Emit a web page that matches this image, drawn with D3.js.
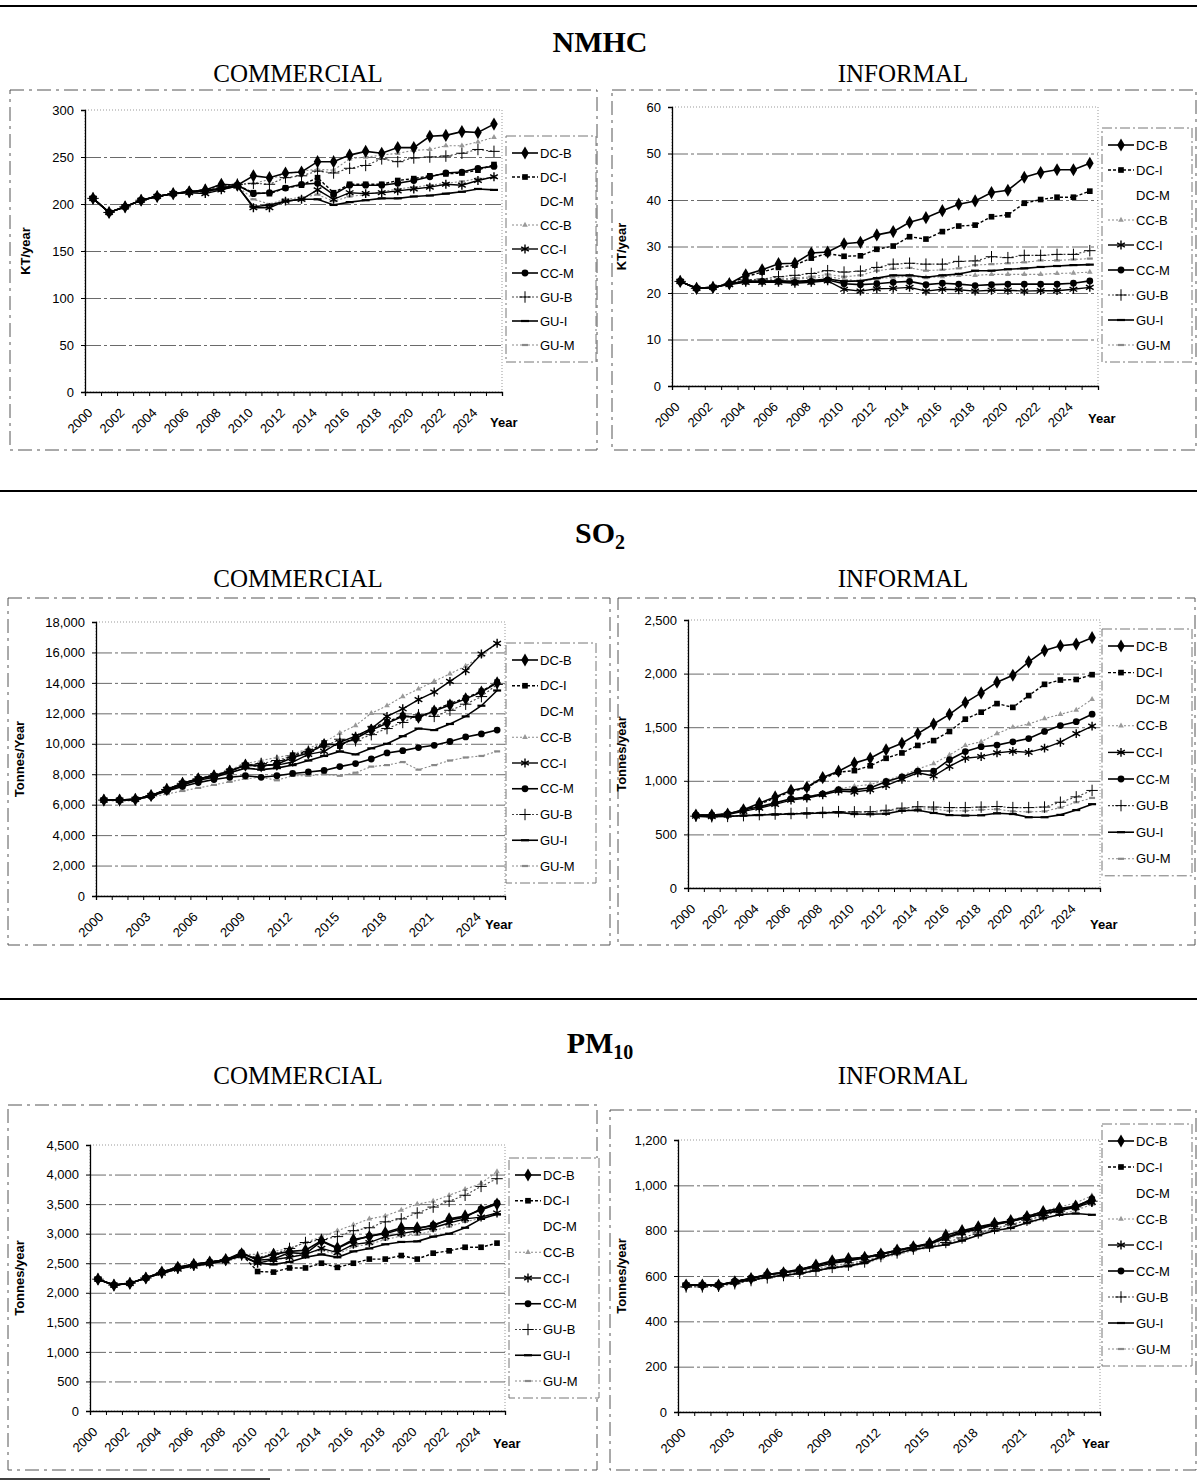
<!DOCTYPE html>
<html>
<head>
<meta charset="utf-8">
<script src="https://cdn.jsdelivr.net/npm/d3@7"></script>
<style>
  body { margin: 0; background: #fff; }
  svg { display: block; }
  text { font-family: "Liberation Sans", Arial, sans-serif; fill: #000; }
  .serif { font-family: "Liberation Serif", "Times New Roman", serif; }
</style>
</head>
<body>
<svg id="chart" width="1197" height="1484"></svg>
<script>
// Years on the category axis
const years = [2000, 2001, 2002, 2003, 2004, 2005, 2006, 2007, 2008, 2009, 2010, 2011, 2012,
  2013, 2014, 2015, 2016, 2017, 2018, 2019, 2020, 2021, 2022, 2023, 2024, 2025];

const seriesNames = ["DC-B", "DC-I", "DC-M", "CC-B", "CC-I", "CC-M", "GU-B", "GU-I", "GU-M"];

// Rows follow seriesNames; DC-M is not visible in any chart
const nmhcCommercial = [
  [206, 191, 197, 204, 208, 211, 213, 215, 221, 220, 230, 228, 233, 234, 245, 245, 252, 256, 254, 260, 260, 272, 273, 277, 276, 285],
  [206, 191, 197, 204, 208, 211, 213, 213, 216, 220, 212, 211, 217, 220, 228, 212, 221, 221, 221, 225, 227, 230, 232, 233, 236, 242],
  [],
  [206, 191, 197, 204, 208, 211, 213, 215, 218, 220, 222, 226, 232, 235, 237, 236, 248, 250, 252, 254, 257, 258, 262, 262, 266, 271],
  [206, 191, 197, 204, 208, 211, 212, 211, 215, 219, 196, 196, 203, 205, 215, 205, 212, 211, 212, 214, 216, 218, 221, 220, 225, 229],
  [206, 191, 197, 204, 208, 211, 213, 214, 217, 220, 211, 212, 217, 221, 222, 210, 220, 220, 220, 222, 225, 229, 233, 234, 238, 240],
  [206, 191, 197, 204, 208, 211, 213, 215, 219, 221, 222, 221, 228, 230, 235, 233, 238, 241, 248, 245, 249, 250, 251, 254, 258, 256],
  [206, 191, 197, 204, 208, 211, 213, 214, 216, 219, 197, 199, 203, 205, 205, 199, 202, 204, 206, 206, 208, 209, 211, 213, 216, 215],
  [206, 191, 197, 204, 208, 211, 212, 213, 216, 219, 205, 200, 205, 207, 210, 203, 208, 210, 213, 216, 218, 220, 222, 224, 227, 228]
];

const nmhcInformal = [
  [22.5, 21, 21.2, 22, 23.9, 25, 26.3, 26.4, 28.6, 28.8, 30.6, 30.9, 32.5, 33.2, 35.2, 36.2, 37.7, 39.1, 39.8, 41.6, 42.1, 44.9, 45.9, 46.5, 46.5, 47.9],
  [22.5, 21, 21.2, 22, 23.5, 24.5, 25.5, 26, 27.5, 28.5, 27.9, 28, 29.4, 30.1, 32.1, 31.6, 33.2, 34.4, 34.6, 36.4, 36.8, 39.3, 40.1, 40.6, 40.6, 41.9],
  [],
  [22.5, 21, 21.2, 22, 22.5, 22.6, 22.8, 23, 23.2, 23.5, 23, 22.5, 23, 23.4, 23.6, 23.3, 23.5, 23.8, 23.8, 24, 24, 24, 24, 24.2, 24.3, 24.5],
  [22.5, 21, 21.2, 21.8, 22.3, 22.3, 22.3, 22.1, 22.3, 22.6, 20.8, 20.4, 20.9, 21, 21.2, 20.4, 20.8, 20.7, 20.4, 20.6, 20.6, 20.4, 20.5, 20.5, 20.8, 21.2],
  [22.5, 21, 21.2, 22, 22.5, 22.5, 22.5, 22.3, 22.5, 22.8, 22, 21.8, 22, 22.3, 22.5, 21.8, 22.1, 21.9, 21.6, 21.8, 21.9, 21.9, 21.9, 21.9, 22.1, 22.6],
  [22.5, 21, 21.2, 22, 22.8, 23, 23.5, 23.8, 24.2, 24.8, 24.5, 24.7, 25.5, 26.2, 26.4, 26.2, 26.2, 26.8, 26.9, 27.8, 27.6, 28.1, 28.1, 28.3, 28.3, 29.1],
  [22.5, 21, 21.2, 22, 22.5, 22.5, 22.6, 22.5, 22.7, 23, 22.5, 22.6, 23.2, 23.8, 23.8, 23.4, 23.8, 24.1, 24.8, 24.8, 25.1, 25.3, 25.6, 25.8, 26, 26.1],
  [22.5, 21, 21.2, 22, 22.6, 22.8, 23, 23.2, 23.5, 24, 23.5, 23.8, 24.8, 25.2, 25.4, 24.8, 25, 25.3, 26, 26.2, 26.4, 26.6, 27, 27, 27.2, 27.4]
];

const so2Commercial = [
  [6300, 6300, 6350, 6600, 7000, 7400, 7700, 7900, 8200, 8600, 8550, 8650, 9100, 9400, 9950, 9950, 10350, 10900, 11350, 11800, 11750, 12150, 12550, 12950, 13400, 14000],
  [6300, 6300, 6350, 6600, 7000, 7400, 7700, 7900, 8200, 8600, 8500, 8700, 9250, 9500, 10050, 9850, 10450, 11000, 11450, 11850, 11700, 12200, 12650, 13000, 13450, 14050],
  [],
  [6300, 6300, 6350, 6600, 7000, 7400, 7700, 7950, 8300, 8700, 8900, 9100, 9300, 9700, 10100, 10700, 11200, 12000, 12500, 13100, 13600, 14100, 14600, 15100, 15800, 16600],
  [6300, 6300, 6350, 6600, 7000, 7400, 7700, 7900, 8200, 8600, 8600, 8600, 8800, 9300, 9500, 10100, 10500, 11000, 11800, 12300, 12900, 13400, 14100, 14800, 15900, 16600],
  [6300, 6300, 6350, 6550, 6900, 7200, 7450, 7650, 7800, 7900, 7800, 7900, 8050, 8150, 8250, 8500, 8700, 9000, 9400, 9550, 9750, 9900, 10150, 10450, 10650, 10900],
  [6300, 6300, 6350, 6600, 7000, 7400, 7700, 7900, 8200, 8600, 8700, 8900, 9200, 9500, 9800, 10300, 10200, 10600, 11000, 11400, 11900, 11800, 12200, 12600, 13100, 13900],
  [6300, 6300, 6350, 6600, 6950, 7300, 7600, 7800, 8100, 8400, 8300, 8400, 8600, 8900, 9200, 9500, 9300, 9700, 10000, 10500, 11000, 10900, 11300, 11800, 12500, 13500],
  [6300, 6200, 6300, 6500, 6700, 6900, 7100, 7300, 7500, 7700, 7800, 7600, 7900, 7900, 8000, 7900, 8100, 8500, 8600, 8800, 8300, 8600, 8900, 9100, 9200, 9500]
];

const so2Informal = [
  [680, 680, 690, 730, 790, 850, 910, 940, 1030, 1090, 1165, 1210, 1290, 1350, 1440, 1530, 1620, 1730, 1820, 1920, 1985, 2110, 2215, 2260, 2275, 2335],
  [680, 680, 690, 725, 780, 840, 900, 935, 1020, 1080, 1095, 1140, 1210, 1260, 1330, 1375, 1460, 1575, 1640, 1720, 1685, 1795, 1900, 1940, 1945, 1990],
  [],
  [680, 680, 690, 725, 755, 790, 830, 850, 880, 925, 950, 965, 1005, 1050, 1110, 1160, 1240, 1330, 1365, 1440, 1500, 1530, 1580, 1620, 1660, 1760],
  [670, 665, 685, 715, 745, 780, 820, 840, 870, 905, 895, 915, 955, 1015, 1075, 1045, 1135, 1210, 1225, 1260, 1275, 1265, 1305, 1360, 1440, 1510],
  [680, 680, 690, 727, 758, 794, 833, 848, 879, 918, 918, 933, 994, 1036, 1091, 1091, 1197, 1273, 1318, 1333, 1364, 1394, 1460, 1515, 1551, 1621],
  [670, 665, 668, 675, 685, 690, 695, 700, 705, 712, 710, 712, 725, 745, 758, 755, 750, 750, 755, 760, 750, 750, 755, 800, 850, 910],
  [670, 665, 668, 675, 680, 685, 690, 695, 700, 705, 690, 688, 692, 720, 725, 700, 680, 676, 678, 697, 690, 660, 660, 682, 727, 782],
  [670, 665, 668, 675, 682, 688, 692, 697, 702, 708, 705, 700, 715, 730, 740, 735, 720, 720, 730, 735, 715, 710, 715, 750, 800, 840]
];

const pm10Commercial = [
  [2230, 2130, 2160, 2250, 2350, 2430, 2480, 2520, 2560, 2660, 2570, 2650, 2700, 2720, 2880, 2760, 2900, 2950, 3020, 3100, 3100, 3130, 3250, 3300, 3400, 3500],
  [2230, 2130, 2160, 2250, 2350, 2430, 2480, 2520, 2560, 2650, 2360, 2350, 2420, 2420, 2500, 2430, 2500, 2570, 2570, 2630, 2570, 2670, 2710, 2770, 2770, 2840],
  [],
  [2230, 2130, 2160, 2250, 2340, 2420, 2470, 2510, 2560, 2650, 2650, 2700, 2750, 2850, 2950, 3050, 3150, 3250, 3300, 3400, 3500, 3550, 3650, 3750, 3850, 4050],
  [2230, 2130, 2160, 2250, 2330, 2400, 2450, 2490, 2540, 2640, 2500, 2560, 2600, 2650, 2750, 2680, 2820, 2850, 2950, 3000, 3050, 3100, 3180, 3250, 3280, 3350],
  [2230, 2130, 2160, 2250, 2350, 2430, 2480, 2520, 2560, 2680, 2550, 2570, 2680, 2660, 2870, 2750, 2880, 2960, 3000, 3080, 3080, 3150, 3230, 3280, 3420, 3520],
  [2230, 2130, 2160, 2250, 2340, 2420, 2470, 2510, 2560, 2640, 2600, 2650, 2750, 2850, 2900, 2950, 3050, 3100, 3200, 3250, 3350, 3450, 3550, 3650, 3800, 3930],
  [2230, 2130, 2160, 2250, 2330, 2410, 2460, 2500, 2550, 2620, 2500, 2480, 2520, 2600, 2650, 2600, 2700, 2750, 2820, 2860, 2870, 2950, 3000, 3100, 3250, 3330],
  [2230, 2130, 2160, 2250, 2320, 2400, 2440, 2480, 2530, 2600, 2500, 2550, 2600, 2680, 2720, 2650, 2780, 2820, 2900, 2960, 2980, 3050, 3120, 3200, 3260, 3320]
];

const pm10Informal = [
  [560, 560, 560, 574, 589, 608, 614, 626, 648, 667, 677, 682, 697, 714, 729, 744, 780, 800, 817, 832, 844, 862, 884, 898, 909, 935],
  [560, 560, 560, 576, 590, 606, 616, 628, 645, 664, 672, 680, 695, 712, 727, 742, 770, 795, 812, 830, 842, 860, 878, 893, 906, 930],
  [],
  [555, 555, 556, 570, 585, 598, 608, 618, 632, 646, 655, 668, 690, 706, 722, 738, 760, 785, 805, 825, 846, 866, 886, 905, 922, 955],
  [560, 560, 560, 574, 588, 604, 614, 625, 640, 656, 666, 680, 695, 711, 726, 741, 766, 790, 806, 826, 840, 858, 874, 888, 903, 925],
  [560, 560, 560, 576, 590, 606, 616, 630, 646, 662, 670, 682, 698, 713, 728, 742, 770, 794, 812, 830, 841, 858, 875, 890, 906, 940],
  [552, 552, 555, 566, 580, 592, 602, 612, 625, 638, 648, 662, 686, 702, 719, 731, 748, 768, 790, 810, 826, 846, 866, 886, 905, 930],
  [560, 560, 560, 570, 582, 594, 603, 611, 624, 636, 644, 658, 684, 700, 717, 727, 738, 756, 780, 800, 812, 835, 855, 870, 876, 870],
  [555, 555, 556, 568, 580, 592, 600, 610, 622, 634, 641, 655, 678, 695, 712, 725, 740, 760, 780, 800, 813, 832, 852, 870, 890, 915]
];

// Line and marker look of each series
const seriesStyle = {
  "DC-B": { stroke: "#000", width: 1.6, dash: null, marker: "diamond" },
  "DC-I": { stroke: "#000", width: 1.4, dash: "3,2", marker: "square" },
  "DC-M": { stroke: "none", width: 0, dash: null, marker: null },
  "CC-B": { stroke: "#8a8a8a", width: 1.1, dash: "2,2", marker: "triangle" },
  "CC-I": { stroke: "#000", width: 1.4, dash: null, marker: "asterisk" },
  "CC-M": { stroke: "#000", width: 1.6, dash: null, marker: "circle" },
  "GU-B": { stroke: "#444", width: 1.1, dash: "2,2", marker: "plus" },
  "GU-I": { stroke: "#000", width: 1.6, dash: null, marker: "dash" },
  "GU-M": { stroke: "#8a8a8a", width: 1.1, dash: "2,2", marker: "graydash" }
};

// Lighter series first so the black ones sit on top
const drawOrder = ["CC-B", "GU-M", "GU-B", "GU-I", "CC-I", "CC-M", "DC-I", "DC-B"];

const svg = d3.select("#chart");

// Horizontal rules between the three pollutant blocks
[[0, 6, 1197, 2], [0, 491, 1197, 2], [0, 999, 1197, 2], [0, 1479, 270, 1.5]].forEach(r => {
  svg.append("line")
    .attr("x1", r[0]).attr("x2", r[2])
    .attr("y1", r[1]).attr("y2", r[1])
    .attr("stroke", "#000")
    .attr("stroke-width", r[3]);
});

// Block titles
function blockTitle(main, sub, y) {
  const t = svg.append("text")
    .attr("class", "serif")
    .attr("x", 600)
    .attr("y", y)
    .attr("text-anchor", "middle")
    .style("font-size", "30px")
    .style("font-weight", "700")
    .text(main);
  if (sub) {
    t.append("tspan")
      .attr("dy", 6)
      .style("font-size", "20px")
      .text(sub);
  }
}
blockTitle("NMHC", null, 52);
blockTitle("SO", "2", 543);
blockTitle("PM", "10", 1053);

function subTitle(label, x, y) {
  svg.append("text")
    .attr("class", "serif")
    .attr("x", x)
    .attr("y", y)
    .attr("text-anchor", "middle")
    .style("font-size", "25px")
    .text(label);
}
[82, 587, 1084].forEach(y => {
  subTitle("COMMERCIAL", 298, y);
  subTitle("INFORMAL", 903, y);
});

function markerPath(type) {
  const sym = (t, s) => d3.symbol().type(t).size(s)();
  switch (type) {
    case "diamond": return sym(d3.symbolDiamond, 50);
    case "square": return sym(d3.symbolSquare, 32);
    case "circle": return sym(d3.symbolCircle, 36);
    case "triangle": return sym(d3.symbolTriangle, 14);
    case "asterisk": return sym(d3.symbolAsterisk || d3.symbolCross, 55);
    case "plus": return sym(d3.symbolPlus || d3.symbolCross, 45);
    case "dash": return "M-4,0H4";
    case "graydash": return "M-3,0H3";
    default: return null;
  }
}

function drawMarker(g, type, cx, cy) {
  const p = markerPath(type);
  if (!p) return;
  const m = g.append("path")
    .attr("d", p)
    .attr("transform", `translate(${cx},${cy})`);
  if (type === "asterisk" || type === "plus") {
    m.attr("fill", "none").attr("stroke", "#000").attr("stroke-width", type === "plus" ? 1 : 1.4);
  } else if (type === "dash") {
    m.attr("fill", "none").attr("stroke", "#000").attr("stroke-width", 2.2);
  } else if (type === "graydash") {
    m.attr("fill", "none").attr("stroke", "#888").attr("stroke-width", 2.2);
  } else if (type === "triangle") {
    m.attr("fill", "#999");
  } else {
    m.attr("fill", "#000");
  }
}

function drawPanel(p) {
  const g = svg.append("g");

  // Chart area frame (broken outline as in the scan)
  g.append("rect")
    .attr("x", p.frame[0]).attr("y", p.frame[1])
    .attr("width", p.frame[2] - p.frame[0])
    .attr("height", p.frame[3] - p.frame[1])
    .attr("fill", "none")
    .attr("stroke", "#555")
    .attr("stroke-width", 1)
    .attr("stroke-dasharray", "14,5,3,5");

  const x = d3.scaleBand().domain(years).range([p.x0, p.x1]);
  const y = d3.scaleLinear().domain([0, p.max]).range([p.yBot, p.yTop]);
  const cx = d => x(d) + x.bandwidth() / 2;
  const yTicks = d3.range(0, p.max + p.step / 2, p.step);

  // Plot area border
  g.append("rect")
    .attr("x", p.x0).attr("y", p.yTop)
    .attr("width", p.x1 - p.x0).attr("height", p.yBot - p.yTop)
    .attr("fill", "none")
    .attr("stroke", "#999")
    .attr("stroke-dasharray", "1,2");

  // Gridlines
  g.append("g")
    .attr("transform", `translate(${p.x0},0)`)
    .call(d3.axisLeft(y).tickValues(yTicks.slice(1, -1)).tickSize(-(p.x1 - p.x0)).tickFormat(""))
    .call(a => a.select(".domain").remove())
    .selectAll("line")
    .attr("stroke", "#6a6a6a")
    .attr("stroke-dasharray", "16,3,3,3");

  // Y axis
  const yAxis = g.append("g")
    .attr("transform", `translate(${p.x0},0)`)
    .call(d3.axisLeft(y).tickValues(yTicks).tickSize(4).tickPadding(7).tickFormat(p.fmt));
  yAxis.selectAll("text").style("font-size", "13px").style("font-family", "'Liberation Sans', Arial, sans-serif");
  yAxis.select(".domain").attr("stroke-width", 1.3);

  // X axis tick marks between categories
  const xb = d3.scaleLinear().domain([0, years.length]).range([p.x0, p.x1]);
  g.append("g")
    .attr("transform", `translate(0,${p.yBot})`)
    .call(d3.axisBottom(xb).ticks(years.length).tickSizeOuter(0).tickSize(4).tickFormat(""))
    .select(".domain").attr("stroke-width", 1.3);

  // X axis labels, rotated, ending just under each category
  g.append("g")
    .attr("transform", `translate(0,${p.yBot})`)
    .call(d3.axisBottom(x).tickValues(years.filter((d, i) => i % p.every === 0)).tickSize(0).tickPadding(0))
    .call(a => a.select(".domain").remove())
    .selectAll("text")
    .style("font-size", "13px")
    .style("font-family", "'Liberation Sans', Arial, sans-serif")
    .style("text-anchor", "end")
    .attr("x", -15)
    .attr("y", 11)
    .attr("dy", "0.35em")
    .attr("transform", "rotate(-45)");

  g.append("text")
    .attr("x", p.yearPos[0])
    .attr("y", p.yearPos[1])
    .style("font-size", "13px")
    .style("font-weight", "700")
    .text("Year");

  // Y axis title
  g.append("text")
    .attr("transform", `translate(${p.yTitleX},${(p.yTop + p.yBot) / 2}) rotate(-90)`)
    .attr("text-anchor", "middle")
    .style("font-size", "13px")
    .style("font-weight", "700")
    .text(p.yTitle);

  // Series lines and markers
  const line = d3.line()
    .x((d, i) => cx(years[i]))
    .y(d => y(d));

  drawOrder.forEach(name => {
    const values = p.data[seriesNames.indexOf(name)];
    if (!values.length) return;
    const s = seriesStyle[name];
    g.append("path")
      .datum(values)
      .attr("d", line)
      .attr("fill", "none")
      .attr("stroke", s.stroke)
      .attr("stroke-width", s.width)
      .attr("stroke-dasharray", s.dash);
    values.forEach((v, i) => drawMarker(g, s.marker, cx(years[i]), y(v)));
  });

  // Legend
  const lg = g.append("g");
  lg.append("rect")
    .attr("x", p.legend.x - 6)
    .attr("y", p.legend.y - 17)
    .attr("width", 90)
    .attr("height", p.legend.dy * 8 + 34)
    .attr("fill", "#fff")
    .attr("stroke", "#777")
    .attr("stroke-dasharray", "10,3,2,3");
  seriesNames.forEach((name, i) => {
    const s = seriesStyle[name];
    const ly = p.legend.y + i * p.legend.dy;
    if (s.stroke !== "none") {
      lg.append("line")
        .attr("x1", p.legend.x).attr("x2", p.legend.x + 26)
        .attr("y1", ly).attr("y2", ly)
        .attr("stroke", s.stroke)
        .attr("stroke-width", s.width)
        .attr("stroke-dasharray", s.dash);
      drawMarker(lg, s.marker, p.legend.x + 13, ly);
    }
    lg.append("text")
      .attr("x", p.legend.x + 28)
      .attr("y", ly)
      .attr("dy", "0.35em")
      .style("font-size", "13px")
      .text(name);
  });
}

const plain = d3.format("d");
const comma = d3.format(",");

const panels = [
  { data: nmhcCommercial, x0: 85, x1: 502, yTop: 110, yBot: 392, max: 300, step: 50, every: 2, fmt: plain,
    yTitle: "KT/year", yTitleX: 30, legend: { x: 512, y: 153, dy: 24 }, yearPos: [490, 427], frame: [10, 90, 597, 450] },
  { data: nmhcInformal, x0: 672, x1: 1098, yTop: 107, yBot: 386, max: 60, step: 10, every: 2, fmt: plain,
    yTitle: "KT/year", yTitleX: 626, legend: { x: 1108, y: 145, dy: 25 }, yearPos: [1088, 423], frame: [612, 90, 1196, 450] },
  { data: so2Commercial, x0: 96, x1: 505, yTop: 622, yBot: 896, max: 18000, step: 2000, every: 3, fmt: comma,
    yTitle: "Tonnes/Year", yTitleX: 24, legend: { x: 512, y: 660, dy: 25.75 }, yearPos: [485, 929], frame: [8, 598, 610, 945] },
  { data: so2Informal, x0: 688, x1: 1100, yTop: 620, yBot: 888, max: 2500, step: 500, every: 2, fmt: comma,
    yTitle: "Tonnes/year", yTitleX: 626, legend: { x: 1108, y: 646, dy: 26.6 }, yearPos: [1090, 929], frame: [618, 598, 1195, 945] },
  { data: pm10Commercial, x0: 90, x1: 505, yTop: 1145, yBot: 1411, max: 4500, step: 500, every: 2, fmt: comma,
    yTitle: "Tonnes/year", yTitleX: 24, legend: { x: 515, y: 1175, dy: 25.75 }, yearPos: [493, 1448], frame: [8, 1105, 597, 1470] },
  { data: pm10Informal, x0: 678, x1: 1100, yTop: 1140, yBot: 1412, max: 1200, step: 200, every: 3, fmt: comma,
    yTitle: "Tonnes/year", yTitleX: 626, legend: { x: 1108, y: 1141, dy: 26 }, yearPos: [1082, 1448], frame: [610, 1110, 1196, 1470] }
];

panels.forEach(drawPanel);
</script>
</body>
</html>
